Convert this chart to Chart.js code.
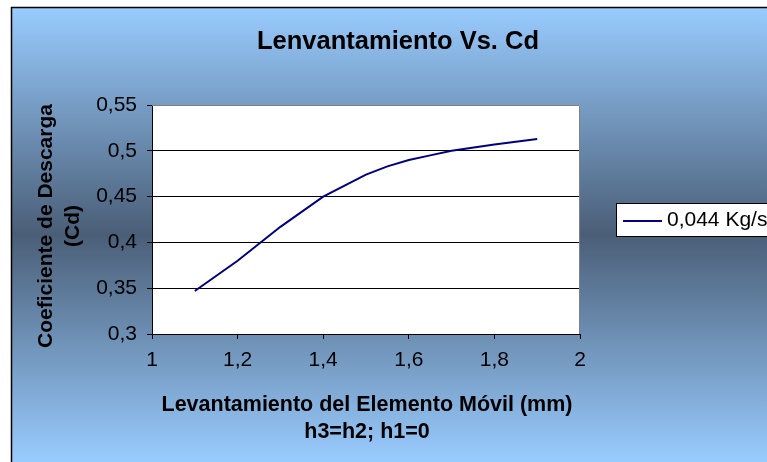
<!DOCTYPE html>
<html>
<head>
<meta charset="utf-8">
<script src="https://cdn.jsdelivr.net/npm/chart.js@4.4.1/dist/chart.umd.min.js"></script>
<style>
  body { margin: 0; background: #ffffff; }
  #wrap { width: 767px; height: 462px; }
</style>
</head>
<body>
<div id="wrap"><canvas id="cdChart" width="767" height="462"></canvas></div>
<script>
// lift (mm) vs discharge coefficient
const lift = [1.1, 1.2, 1.3, 1.4, 1.5, 1.55, 1.6, 1.65, 1.7, 1.8, 1.9];
const cd = [0.347, 0.380, 0.417, 0.450, 0.474, 0.483, 0.490, 0.495, 0.500, 0.507, 0.513];
const seriesName = '0,044 Kg/s';
const chartTitle = 'Lenvantamiento Vs. Cd';
const xTitle = ['Levantamiento del Elemento Móvil (mm)', 'h3=h2; h1=0'];
const yTitle = ['Coeficiente de Descarga', '(Cd)'];

const FONT = 'Arial, "Liberation Sans", sans-serif';

function comma(v) {
    return (Math.round(v * 100) / 100).toString().replace('.', ',');
}

// background panel, border and white plot area
const panel = {
    id: 'panel',
    beforeDraw(chart) {
        const ctx = chart.ctx;
        const a = chart.chartArea;
        ctx.save();
        const g = ctx.createLinearGradient(0, 7, 0, 462);
        g.addColorStop(0, '#99ccff');
        g.addColorStop(0.5, '#4a5e77');
        g.addColorStop(1, '#99ccff');
        ctx.fillStyle = g;
        ctx.fillRect(11, 7, 767, 462);
        ctx.strokeStyle = '#000000';
        ctx.lineWidth = 1.5;
        ctx.beginPath();
        ctx.moveTo(11.5, 462);
        ctx.lineTo(11.5, 7.5);
        ctx.lineTo(767, 7.5);
        ctx.stroke();
        ctx.fillStyle = '#ffffff';
        ctx.fillRect(a.left, a.top, a.right - a.left, a.bottom - a.top);
        ctx.restore();
    },
    afterDraw(chart) {
        const ctx = chart.ctx;
        const a = chart.chartArea;
        ctx.save();
        // plot frame (top / right)
        ctx.strokeStyle = '#808080';
        ctx.lineWidth = 1;
        ctx.beginPath();
        ctx.moveTo(a.left, a.top + 0.5);
        ctx.lineTo(a.right - 0.5, a.top + 0.5);
        ctx.lineTo(a.right - 0.5, a.bottom);
        ctx.stroke();

        ctx.fillStyle = '#000000';
        ctx.textAlign = 'center';
        ctx.textBaseline = 'middle';
        ctx.font = 'bold 25.5px ' + FONT;
        ctx.fillText(chartTitle, 398, 42);

        ctx.font = 'bold 21.5px ' + FONT;
        ctx.fillText(xTitle[0], 367, 405);
        ctx.fillText(xTitle[1], 367, 432);

        ctx.save();
        ctx.translate(46, 226);
        ctx.rotate(-Math.PI / 2);
        ctx.font = 'bold 21px ' + FONT;
        ctx.fillText(yTitle[0], 0, 0);
        ctx.fillText(yTitle[1], 0, 27);
        ctx.restore();

        // legend
        const ds = chart.data.datasets[0];
        ctx.fillStyle = '#ffffff';
        ctx.fillRect(616, 203, 170, 33);
        ctx.strokeStyle = '#000000';
        ctx.lineWidth = 1;
        ctx.strokeRect(616.5, 203.5, 170, 33);
        ctx.strokeStyle = ds.borderColor;
        ctx.lineWidth = ds.borderWidth;
        ctx.beginPath();
        ctx.moveTo(623, 221);
        ctx.lineTo(662, 221);
        ctx.stroke();
        ctx.fillStyle = '#000000';
        ctx.textAlign = 'left';
        ctx.font = '21px ' + FONT;
        ctx.fillText(ds.label, 667, 220);
        ctx.restore();
    }
};

new Chart(document.getElementById('cdChart').getContext('2d'), {
    type: 'line',
    data: {
        datasets: [{
            label: seriesName,
            data: lift.map((x, i) => ({ x: x, y: cd[i] })),
            borderColor: '#000080',
            borderWidth: 2,
            pointRadius: 0,
            tension: 0,
            fill: false
        }]
    },
    options: {
        responsive: false,
        animation: false,
        layout: { padding: { left: 0, top: 105, right: 187, bottom: 0 } },
        plugins: {
            legend: { display: false },
            title: { display: false },
            tooltip: { enabled: false }
        },
        scales: {
            x: {
                type: 'linear',
                min: 1,
                max: 2,
                afterFit(s) { s.height = 128; },
                ticks: {
                    stepSize: 0.2,
                    color: '#000000',
                    padding: 9,
                    maxRotation: 0,
                    font: { family: FONT, size: 21 },
                    callback: v => comma(v)
                },
                grid: {
                    drawOnChartArea: false,
                    tickLength: 5,
                    tickColor: '#000000'
                },
                border: { color: '#000000', width: 1 }
            },
            y: {
                min: 0.3,
                max: 0.55,
                afterFit(s) { s.width = 152; },
                ticks: {
                    stepSize: 0.05,
                    color: '#000000',
                    padding: 10,
                    font: { family: FONT, size: 21 },
                    callback: v => comma(v)
                },
                grid: {
                    color: c => (c.tick && (Math.abs(c.tick.value - 0.3) < 1e-6 || Math.abs(c.tick.value - 0.55) < 1e-6)) ? 'rgba(0,0,0,0)' : '#000000',
                    tickLength: 5,
                    tickColor: '#000000'
                },
                border: { color: '#000000', width: 1 }
            }
        }
    },
    plugins: [panel]
});
</script>
</body>
</html>
